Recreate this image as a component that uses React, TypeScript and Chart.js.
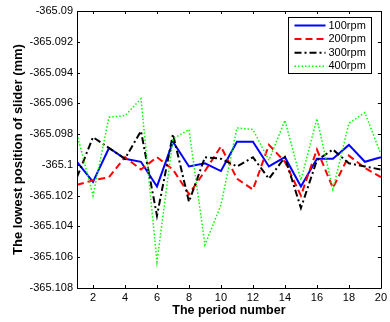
import React, { useEffect, useRef } from "react";
import { Chart, registerables } from "chart.js";

Chart.register(...registerables);

const periods = [1, 2, 3, 4, 5, 6, 7, 8, 9, 10, 11, 12, 13, 14, 15, 16, 17, 18, 19, 20];
const rpm100 = [-365.0998, -365.1011, -365.0989, -365.0996, -365.0998, -365.1014, -365.0985, -365.1001, -365.0999, -365.1004, -365.0985, -365.0985, -365.1001, -365.0995, -365.1014, -365.0996, -365.0996, -365.0987, -365.0998, -365.0995];
const rpm200 = [-365.1013, -365.101, -365.1008, -365.0995, -365.1003, -365.0995, -365.1003, -365.1019, -365.1004, -365.0988, -365.1009, -365.1016, -365.0987, -365.0998, -365.102, -365.099, -365.1015, -365.0994, -365.1002, -365.1008];
const rpm300 = [-365.1008, -365.0982, -365.0989, -365.0996, -365.0978, -365.1033, -365.098, -365.1024, -365.0995, -365.0996, -365.1001, -365.0995, -365.1009, -365.0995, -365.1028, -365.0997, -365.099, -365.0999, -365.1001, -365.1003];
const rpm400 = [-365.098, -365.102, -365.0969, -365.0968, -365.0957, -365.1063, -365.0983, -365.0977, -365.1052, -365.1026, -365.0976, -365.0977, -365.0997, -365.0971, -365.101, -365.097, -365.1016, -365.0973, -365.0966, -365.0993];
const seriesLabels = ["100rpm", "200rpm", "300rpm", "400rpm"];
const xTickValues = [2, 4, 6, 8, 10, 12, 14, 16, 18, 20];
const yTickValues = [-365.108, -365.106, -365.104, -365.102, -365.1, -365.098, -365.096, -365.094, -365.092, -365.09];
const yTickLabels = ["-365.108", "-365.106", "-365.104", "-365.102", "-365.1", "-365.098", "-365.096", "-365.094", "-365.092", "-365.09"];

const FONT = "'Liberation Sans', Arial, Helvetica, sans-serif";

const framePlugin = {
  id: "frame",
  beforeDraw(chart: any) {
    const ctx = chart.ctx;
    ctx.save();
    ctx.fillStyle = "#ffffff";
    ctx.fillRect(0, 0, chart.width, chart.height);
    ctx.restore();
  },
  afterDatasetsDraw(chart: any) {
    const { ctx, chartArea: ca } = chart;
    const xs = chart.scales.x;
    const ys = chart.scales.y;
    ctx.save();
    ctx.strokeStyle = "#000";
    ctx.lineWidth = 1;
    ctx.setLineDash([]);
    ctx.beginPath();
    ctx.rect(Math.round(ca.left) + 0.5, Math.round(ca.top) + 0.5, Math.round(ca.right - ca.left), Math.round(ca.bottom - ca.top));
    ctx.stroke();
    const tl = 3;
    ctx.beginPath();
    xs.ticks.forEach((t: any) => {
      const px = Math.round(xs.getPixelForValue(t.value)) + 0.5;
      ctx.moveTo(px, ca.bottom);
      ctx.lineTo(px, ca.bottom - tl);
      ctx.moveTo(px, ca.top);
      ctx.lineTo(px, ca.top + tl);
    });
    ys.ticks.forEach((t: any) => {
      const py = Math.round(ys.getPixelForValue(t.value)) + 0.5;
      ctx.moveTo(ca.left, py);
      ctx.lineTo(ca.left + tl, py);
      ctx.moveTo(ca.right, py);
      ctx.lineTo(ca.right - tl, py);
    });
    ctx.stroke();
    ctx.restore();
  },
  afterDraw(chart: any) {
    const { ctx, chartArea: ca } = chart;
    const bx = Math.round(ca.right - 93) + 0.5;
    const by = Math.round(ca.top + 6) + 0.5;
    const bw = 83;
    const bh = 56;
    ctx.save();
    ctx.fillStyle = "#fff";
    ctx.fillRect(bx, by, bw, bh);
    ctx.strokeStyle = "#000";
    ctx.lineWidth = 1;
    ctx.setLineDash([]);
    ctx.strokeRect(bx, by, bw, bh);
    chart.data.datasets.forEach((ds: any, i: number) => {
      const y = by + 8 + i * 13.6;
      ctx.strokeStyle = ds.borderColor;
      ctx.lineWidth = ds.borderWidth;
      ctx.setLineDash(ds.borderDash || []);
      ctx.beginPath();
      ctx.moveTo(bx + 6, y);
      ctx.lineTo(bx + 37, y);
      ctx.stroke();
      ctx.setLineDash([]);
      ctx.fillStyle = "#000";
      ctx.font = `11px ${FONT}`;
      ctx.textBaseline = "middle";
      ctx.textAlign = "left";
      ctx.fillText(ds.label, bx + 40, y);
    });
    ctx.restore();
  },
};

export default function App() {
  const ref = useRef<HTMLCanvasElement>(null);
  useEffect(() => {
    const toPts = (arr: number[]) => periods.map((p, i) => ({ x: p, y: arr[i] }));
    const chart = new Chart(ref.current as HTMLCanvasElement, {
      type: "line",
      data: {
        datasets: [
          { label: seriesLabels[0], data: toPts(rpm100), borderColor: "#0000ff", borderWidth: 2, borderDash: [], order: 3 },
          { label: seriesLabels[1], data: toPts(rpm200), borderColor: "#ff0000", borderWidth: 2, borderDash: [7, 4], order: 2 },
          { label: seriesLabels[2], data: toPts(rpm300), borderColor: "#000000", borderWidth: 2, borderDash: [7, 3, 2, 3], order: 1 },
          { label: seriesLabels[3], data: toPts(rpm400), borderColor: "#00ff00", borderWidth: 1.5, borderDash: [1.5, 2], order: 0 },
        ] as any,
      },
      options: {
        animation: false,
        responsive: false,
        devicePixelRatio: 1,
        layout: { padding: { left: 0, top: 11, right: 4, bottom: 0 } },
        elements: { point: { radius: 0 }, line: { tension: 0, fill: false } },
        plugins: { legend: { display: false }, tooltip: { enabled: false } },
        scales: {
          x: {
            type: "linear",
            min: 1,
            max: 20,
            afterBuildTicks: (s: any) => {
              s.ticks = xTickValues.map((v) => ({ value: v }));
            },
            afterFit: (s: any) => {
              s.height = 34;
            },
            grid: { display: false, drawTicks: false },
            border: { display: false },
            ticks: {
              autoSkip: false,
              maxRotation: 0,
              padding: 3,
              color: "#000",
              font: { family: FONT, size: 11 },
              callback: (v: any) => String(v),
            },
            title: {
              display: true,
              text: "The period number",
              color: "#000",
              font: { family: FONT, size: 12.5, weight: "bold" },
              padding: { top: 0, bottom: 3.5 },
            },
          },
          y: {
            type: "linear",
            min: yTickValues[0],
            max: yTickValues[yTickValues.length - 1],
            afterBuildTicks: (s: any) => {
              s.ticks = yTickValues.map((v) => ({ value: v }));
            },
            afterFit: (s: any) => {
              s.width = 77;
            },
            grid: { display: false, drawTicks: false },
            border: { display: false },
            ticks: {
              autoSkip: false,
              padding: 4,
              color: "#000",
              font: { family: FONT, size: 11 },
              callback: (_v: any, i: number) => yTickLabels[i],
            },
            title: {
              display: true,
              text: "The lowest position of slider (mm)",
              color: "#000",
              font: { family: FONT, size: 13, weight: "bold" },
              padding: { top: 11, bottom: 0 },
            },
          },
        },
      } as any,
      plugins: [framePlugin],
    });
    return () => chart.destroy();
  }, []);
  return (
    <div style={{ position: "fixed", left: 0, top: 0, width: 390, height: 322, background: "#fff" }}>
      <canvas ref={ref} width={390} height={322} style={{ display: "block" }} />
    </div>
  );
}
